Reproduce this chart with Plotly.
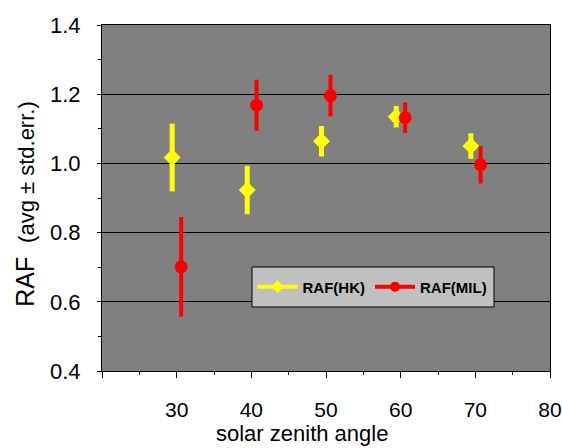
import plotly.graph_objects as go

# Solar zenith angle (deg) for each station's bin centre
sza_hk = [29.4, 39.45, 49.4, 59.4, 69.4]
sza_mil = [30.6, 40.7, 50.6, 60.6, 70.7]

# Radiation amplification factor: average and standard error
raf_hk = [1.017, 0.923, 1.064, 1.135, 1.050]
err_hk = [0.098, 0.070, 0.044, 0.031, 0.037]
raf_mil = [0.701, 1.168, 1.196, 1.132, 0.996]
err_mil = [0.144, 0.074, 0.060, 0.044, 0.054]

x_ticks = [20, 30, 40, 50, 60, 70, 80]
x_labels = ["", "30", "40", "50", "60", "70", "80"]
y_ticks = [0.4, 0.6, 0.8, 1.0, 1.2, 1.4]
y_labels = ["0.4", "0.6", "0.8", "1.0", "1.2", "1.4"]

x_title = "solar zenith angle"
y_title = "RAF  <span style='font-size:22px'>(avg ± std.err.)</span>"

YELLOW = "#FFFF00"
RED = "#FF0000"
FONT = "Liberation Sans, Arial, sans-serif"

fig = go.Figure()

fig.add_trace(go.Scatter(
    x=sza_hk, y=raf_hk, mode="markers", showlegend=False,
    marker=dict(symbol="diamond", size=13, color=YELLOW),
    error_y=dict(type="data", array=err_hk, visible=True,
                 color=YELLOW, thickness=5, width=0),
))
fig.add_trace(go.Scatter(
    x=sza_mil, y=raf_mil, mode="markers", showlegend=False,
    marker=dict(symbol="circle", size=13, color=RED),
    error_y=dict(type="data", array=err_mil, visible=True,
                 color=RED, thickness=4, width=0),
))

# legend keys drawn as line + marker
fig.add_trace(go.Scatter(
    x=[None], y=[None], mode="lines+markers", name="RAF(HK)",
    line=dict(color=YELLOW, width=4),
    marker=dict(symbol="diamond", size=10, color=YELLOW),
))
fig.add_trace(go.Scatter(
    x=[None], y=[None], mode="lines+markers", name="RAF(MIL)",
    line=dict(color=RED, width=4),
    marker=dict(symbol="circle", size=10, color=RED),
))

# grey legend panel sitting over the grid
fig.add_shape(
    type="rect", xref="paper", yref="paper",
    x0=0.3348, x1=0.875, y0=0.185, y1=0.3006,
    fillcolor="#C0C0C0", line=dict(color="black", width=1), layer="above",
)

# axis titles placed as free text
fig.add_annotation(
    text=x_title, xref="paper", yref="paper", x=0.446, y=-0.2225,
    xanchor="center", yanchor="bottom", showarrow=False,
    font=dict(family=FONT, size=22, color="black"),
)
fig.add_annotation(
    text=y_title, xref="paper", yref="paper", x=-0.172, y=0.483,
    xanchor="center", yanchor="middle", showarrow=False, textangle=-90,
    font=dict(family=FONT, size=25, color="black"),
)

fig.update_layout(
    width=562, height=448,
    margin=dict(l=102, r=12, t=25, b=77),
    paper_bgcolor="white",
    plot_bgcolor="#808080",
    font=dict(family=FONT, color="black"),
    legend=dict(
        orientation="h", x=0.336, y=0.243, xanchor="left", yanchor="middle",
        bgcolor="rgba(0,0,0,0)", borderwidth=0,
        font=dict(family=FONT, size=15, weight="bold"),
        itemwidth=40,
    ),
)

fig.update_xaxes(
    range=[20, 80], tickvals=x_ticks, ticktext=x_labels,
    ticks="outside", ticklen=6, tickcolor="black", automargin=False,
    ticklabelstandoff=14, ticklabeloverflow="allow",
    showgrid=False, zeroline=False,
    showline=True, linecolor="black", linewidth=1, mirror=True,
    tickfont=dict(size=21),
    minor=dict(dtick=5, tick0=20, ticks="outside", ticklen=3,
               tickcolor="black", showgrid=False),
)
fig.update_yaxes(
    range=[0.4, 1.4], tickvals=y_ticks, ticktext=y_labels,
    ticks="outside", ticklen=4, tickcolor="black", automargin=False,
    ticklabelstandoff=12, ticklabeloverflow="allow",
    showgrid=True, gridcolor="black", gridwidth=1, zeroline=False,
    showline=True, linecolor="black", linewidth=1, mirror=True,
    tickfont=dict(size=22),
    minor=dict(dtick=0.1, tick0=0.4, ticks="outside", ticklen=3,
               tickcolor="black", showgrid=False),
)

fig.write_html("out.html")
